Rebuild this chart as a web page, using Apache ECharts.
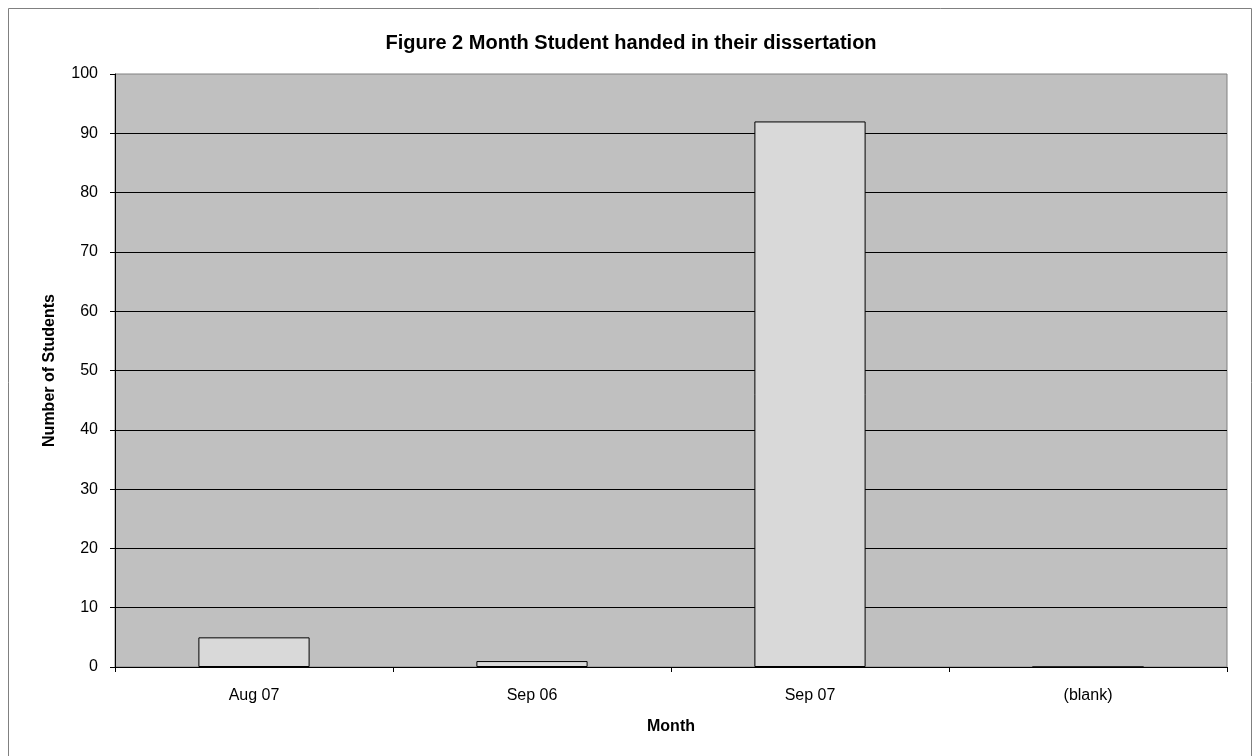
<!DOCTYPE html>
<html>
<head>
<meta charset="utf-8">
<script src="https://cdn.jsdelivr.net/npm/echarts@6/dist/echarts.min.js"></script>
<style>
html,body{margin:0;padding:0;background:#fff;}
#c{width:1259px;height:756px;}
</style>
</head>
<body>
<div id="c"></div>
<script>
var categories = ['Aug 07', 'Sep 06', 'Sep 07', '(blank)'];
var students = [5, 1, 92, 0];

var chart = echarts.init(document.getElementById('c'), null, {renderer: 'canvas'});
var F = 'Arial, "Liberation Sans", sans-serif';
chart.setOption({
  animation: false,
  backgroundColor: '#ffffff',
  graphic: [{
    type: 'rect',
    shape: {x: 8.5, y: 8.5, width: 1243, height: 760},
    style: {fill: 'none', stroke: '#808080', lineWidth: 1},
    silent: true
  }],
  title: {
    text: 'Figure 2 Month Student handed in their dissertation',
    left: 626, top: 28, textAlign: 'center',
    textStyle: {fontFamily: F, fontSize: 20, fontWeight: 'bold', color: '#000'}
  },
  grid: {
    left: 115, right: 32, top: 74, bottom: 89,
    show: true, backgroundColor: '#c0c0c0', borderColor: '#808080', borderWidth: 1
  },
  xAxis: {
    type: 'category',
    data: categories,
    name: 'Month',
    nameLocation: 'middle',
    nameGap: 52,
    nameTextStyle: {fontFamily: F, fontSize: 16, fontWeight: 'bold', color: '#000'},
    axisLine: {lineStyle: {color: '#000', width: 1}},
    axisTick: {show: true, length: 5, lineStyle: {color: '#000'}},
    axisLabel: {fontFamily: F, fontSize: 16, color: '#000', margin: 21}
  },
  yAxis: {
    type: 'value',
    min: 0, max: 100, interval: 10,
    name: 'Number of Students',
    nameLocation: 'middle',
    nameGap: 57,
    nameTextStyle: {fontFamily: F, fontSize: 16, fontWeight: 'bold', color: '#000'},
    axisLine: {show: true, lineStyle: {color: '#000', width: 1}},
    axisTick: {show: true, length: 5, lineStyle: {color: '#000'}},
    axisLabel: {fontFamily: F, fontSize: 16, color: '#000', margin: 17},
    splitLine: {show: true, showMaxLine: false, lineStyle: {color: '#000', width: 1}}
  },
  series: [{
    type: 'bar',
    data: students,
    barWidth: '40%',
    itemStyle: {color: '#d9d9d9', borderColor: '#000', borderWidth: 1}
  }]
});
</script>
</body>
</html>
